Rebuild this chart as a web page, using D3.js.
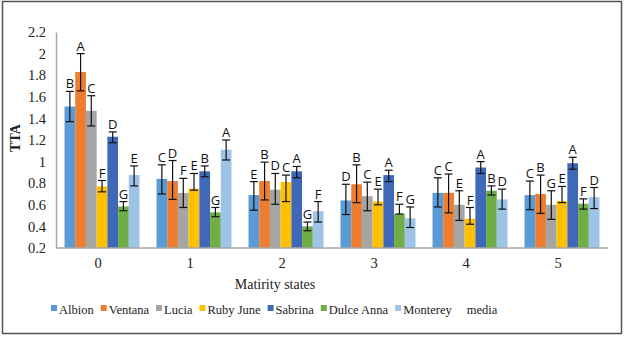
<!DOCTYPE html>
<html>
<head>
<meta charset="utf-8">
<script src="https://cdn.jsdelivr.net/npm/d3@7"></script>
<style>
  body { margin: 0; background: #fff; }
  svg { display: block; }
</style>
</head>
<body>
<div id="chart"></div>
<script>
// categories and series
const states = ["0", "1", "2", "3", "4", "5"];
const cultivars = ["Albion", "Ventana", "Lucia", "Ruby June", "Sabrina", "Dulce Anna", "Monterey"];
const legendNames = ["Albion", "Ventana", "Lucia", "Ruby June", "Sabrina", "Dulce Anna", "Monterey", "media"];
const colors = ["#5b9bd5", "#ed7d31", "#a5a5a5", "#ffc000", "#3f68b8", "#70ad47", "#9dc3e6"];

// TTA mean per cultivar, one value per maturity state
const albion    = [1.51, 0.84, 0.69, 0.64, 0.71, 0.69];
const ventana   = [1.83, 0.82, 0.82, 0.79, 0.71, 0.70];
const lucia     = [1.47, 0.71, 0.74, 0.68, 0.60, 0.60];
const rubyJune  = [0.77, 0.75, 0.81, 0.63, 0.47, 0.635];
const sabrina   = [1.23, 0.91, 0.91, 0.875, 0.945, 0.985];
const dulceAnna = [0.585, 0.53, 0.40, 0.515, 0.73, 0.61];
const monterey  = [0.875, 1.11, 0.54, 0.475, 0.65, 0.67];

// error bar ends (upper / lower)
const errHigh = [
  [1.65, 0.97, 0.815, 0.79, 0.85, 0.82],
  [2.00, 1.01, 0.995, 0.97, 0.885, 0.875],
  [1.61, 0.845, 0.89, 0.81, 0.73, 0.73],
  [0.825, 0.89, 0.875, 0.745, 0.575, 0.77],
  [1.275, 0.96, 0.955, 0.92, 1.00, 1.04],
  [0.63, 0.575, 0.44, 0.605, 0.775, 0.655],
  [0.96, 1.20, 0.63, 0.58, 0.745, 0.76]
];
const errLow = [
  [1.37, 0.70, 0.55, 0.51, 0.58, 0.555],
  [1.655, 0.65, 0.645, 0.62, 0.525, 0.52],
  [1.33, 0.575, 0.605, 0.545, 0.455, 0.465],
  [0.72, 0.735, 0.63, 0.60, 0.42, 0.62],
  [1.175, 0.86, 0.85, 0.815, 0.89, 0.93],
  [0.545, 0.49, 0.36, 0.515, 0.69, 0.56],
  [0.775, 1.015, 0.44, 0.39, 0.56, 0.565]
];

// significance letters
const letters = [
  ["B", "C", "E", "D", "C", "C"],
  ["A", "D", "B", "B", "C", "B"],
  ["C", "F", "D", "C", "E", "G"],
  ["F", "E", "C", "E", "F", "E"],
  ["D", "B", "A", "A", "A", "A"],
  ["G", "G", "G", "F", "B", "F"],
  ["E", "A", "F", "G", "D", "D"]
];

const yTicks = [0.2, 0.4, 0.6, 0.8, 1, 1.2, 1.4, 1.6, 1.8, 2, 2.2];

const means = [albion, ventana, lucia, rubyJune, sabrina, dulceAnna, monterey];

const W = 624, H = 337;
const serif = "'Liberation Serif', 'DejaVu Serif', serif";
const sans = "'Open Sans', 'Liberation Sans', sans-serif";

const svg = d3.select("#chart").append("svg")
  .attr("width", W)
  .attr("height", H);

// outer frame
svg.append("rect")
  .attr("x", 2.5).attr("y", 1.5)
  .attr("width", 619).attr("height", 332)
  .attr("fill", "#fff")
  .attr("stroke", "#555")
  .attr("stroke-width", 1.5);

const plot = {left: 56, right: 608, top: 32, bottom: 248};

const x0 = d3.scaleBand()
  .domain(states)
  .range([plot.left, plot.right])
  .paddingInner(0.185)
  .paddingOuter(0.0925);

const x1 = d3.scaleBand()
  .domain(cultivars)
  .range([0, x0.bandwidth()]);

const y = d3.scaleLinear()
  .domain([0.2, 2.2])
  .range([plot.bottom, plot.top]);

// flatten into rows for drawing
const rows = [];
cultivars.forEach((c, i) => {
  states.forEach((s, j) => {
    rows.push({
      cultivar: c, state: s, color: colors[i],
      value: means[i][j], hi: errHigh[i][j], lo: errLow[i][j], letter: letters[i][j]
    });
  });
});

// bars
svg.append("g")
  .selectAll("rect")
  .data(rows)
  .join("rect")
  .attr("x", d => x0(d.state) + x1(d.cultivar))
  .attr("y", d => y(d.value))
  .attr("width", x1.bandwidth())
  .attr("height", d => y(0.2) - y(d.value))
  .attr("fill", d => d.color);

// error bars
const eb = svg.append("g")
  .attr("stroke", "#111")
  .attr("stroke-width", 1.2);

rows.forEach(d => {
  const cx = x0(d.state) + x1(d.cultivar) + x1.bandwidth() / 2;
  eb.append("line")
    .attr("x1", cx).attr("x2", cx)
    .attr("y1", y(d.hi)).attr("y2", y(d.lo));
  eb.append("line")
    .attr("x1", cx - 4).attr("x2", cx + 4)
    .attr("y1", y(d.hi)).attr("y2", y(d.hi));
  eb.append("line")
    .attr("x1", cx - 4).attr("x2", cx + 4)
    .attr("y1", y(d.lo)).attr("y2", y(d.lo));
});

// letters
svg.append("g")
  .selectAll("text")
  .data(rows)
  .join("text")
  .attr("x", d => x0(d.state) + x1(d.cultivar) + x1.bandwidth() / 2)
  .attr("y", d => y(d.hi) - 3)
  .attr("text-anchor", "middle")
  .style("font-family", sans)
  .style("font-size", "13px")
  .style("fill", "#111")
  .text(d => d.letter);

// Y axis
const yAxis = svg.append("g")
  .attr("transform", `translate(${plot.left},0)`)
  .call(d3.axisLeft(y).tickValues(yTicks).tickSize(0).tickPadding(10).tickFormat(d3.format("")));
yAxis.select(".domain").attr("stroke", "#a6a6a6").attr("stroke-width", 1.5);
yAxis.selectAll("text")
  .style("font-family", serif)
  .style("font-size", "14.5px")
  .style("fill", "#222");

// X axis
const xAxis = svg.append("g")
  .attr("transform", `translate(0,${plot.bottom})`)
  .call(d3.axisBottom(x0).tickSize(0).tickPadding(10).tickSizeOuter(0));
xAxis.select(".domain")
  .attr("d", `M${plot.left},0H${plot.right}`)
  .attr("stroke", "#a6a6a6").attr("stroke-width", 1.5);
xAxis.selectAll("text")
  .attr("dx", -4)
  .style("font-family", serif)
  .style("font-size", "14.5px")
  .style("fill", "#222");

// axis titles
svg.append("text")
  .attr("transform", "translate(20,138) rotate(-90)")
  .attr("text-anchor", "middle")
  .style("font-family", serif)
  .style("font-weight", "bold")
  .style("font-size", "14px")
  .style("fill", "#222")
  .text("TTA");

svg.append("text")
  .attr("x", 275)
  .attr("y", 289)
  .attr("text-anchor", "middle")
  .style("font-family", serif)
  .style("font-size", "14px")
  .style("fill", "#222")
  .text("Matirity states");

// legend
const legend = svg.append("g").attr("transform", "translate(51,314)");
let lx = 0;
legendNames.forEach((name, i) => {
  const item = legend.append("g").attr("transform", `translate(${lx},0)`);
  if (colors[i]) {
    item.append("rect")
      .attr("x", 0).attr("y", -9)
      .attr("width", 6).attr("height", 6)
      .attr("fill", colors[i]);
  }
  const t = item.append("text")
    .attr("x", 8)
    .attr("y", 0)
    .style("font-family", serif)
    .style("font-size", "12.5px")
    .style("fill", "#222")
    .text(name);
  lx += 8 + t.node().getComputedTextLength() + 7;
});
</script>
</body>
</html>
